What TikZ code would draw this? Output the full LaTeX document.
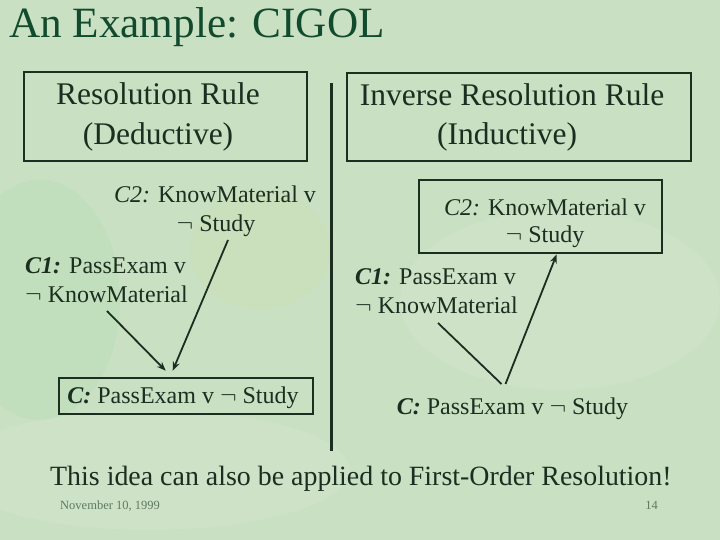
\documentclass[tikz,border=0pt]{standalone}
\usepackage{fontspec}
\setmainfont{Liberation Serif}
\usetikzlibrary{arrows.meta,calc}
\definecolor{bg}{HTML}{C9E0C3}
\definecolor{ink}{HTML}{1C2E20}
\definecolor{titlec}{HTML}{114A2C}
\definecolor{foot}{HTML}{5E7A62}
\tikzset{
  txt/.style={anchor=base,inner sep=0pt,text=ink,font=\fontsize{24}{28}\selectfont},
  hdr/.style={anchor=base,inner sep=0pt,text=ink,font=\fontsize{31.5}{36}\selectfont},
  box/.style={draw=ink,line width=2.6pt,inner sep=0pt},
  arr/.style={draw=ink,line width=1.8pt,-{Stealth[length=9pt,width=7pt]}},
  ln/.style={draw=ink,line width=1.8pt},
}
\begin{document}
\begin{tikzpicture}[x=1pt,y=-1pt]
\useasboundingbox (0,0) rectangle (720,540);
% background
\fill[bg] (0,0) rectangle (720,540);
\fill[white,opacity=0.08] (560,300) ellipse (160 and 90);
\fill[white,opacity=0.08] (150,470) ellipse (200 and 60);
\fill[green!50!teal,opacity=0.04] (40,300) ellipse (80 and 120);
\fill[yellow!60!orange,opacity=0.035] (260,250) ellipse (70 and 60);

% title
\node[anchor=base west,inner sep=0pt,text=titlec,font=\fontsize{43.2}{48}\selectfont] (title) at (9,38) {An Example: CIGOL};

% divider
\coordinate (divtop) at (331,83);
\coordinate (divbot) at (331,451);
\draw[ink,line width=3pt] (divtop) -- (divbot);

% left header box
\node[box,minimum width=283pt,minimum height=89pt] (lbox) at (165.5,116.5) {};
\node[hdr] (lh1) at (158,105) {Resolution Rule};
\node[hdr] (lh2) at (158,145) {(Deductive)};

% right header box
\node[box,minimum width=344pt,minimum height=88pt] (rbox) at (519,117) {};
\node[hdr] (rh1) at (512,106) {Inverse Resolution Rule};
\node[hdr] (rh2) at (507,145) {(Inductive)};

% left side clauses
\node[txt] (lc2a) at (215,203) {\textit{C2:} KnowMaterial v};
\node[txt] (lc2b) at (216,232) {$\neg$ Study};
\node[txt,anchor=base west] (lc1a) at (25,273) {\textbf{\textit{C1:}} PassExam v};
\node[txt,anchor=base west] (lc1b) at (25,302) {$\neg$ KnowMaterial};
\node[box,minimum width=254pt,minimum height=36pt] (lcbox) at (186,396) {};
\node[txt] (lc) at (183,403) {\textbf{\textit{C:}} PassExam v $\neg$ Study};

\coordinate (a1s) at ($(lc1b.base west)+(82,9)$);
\coordinate (a1e) at ($(lcbox.north west)+(108,-6)$);
\coordinate (a2s) at ($(lc2b.base)+(12,8)$);
\coordinate (a2e) at ($(lcbox.north west)+(115,-6)$);
\draw[arr] (a1s) -- (a1e);
\draw[arr] (a2s) -- (a2e);

% right side clauses
\node[box,minimum width=243pt,minimum height=73pt] (rc2box) at (540.5,216.5) {};
\node[txt] (rc2a) at (545,215) {\textit{C2:} KnowMaterial v};
\node[txt] (rc2b) at (545,243) {$\neg$ Study};
\node[txt,anchor=base west] (rc1a) at (355,284) {\textbf{\textit{C1:}} PassExam v};
\node[txt,anchor=base west] (rc1b) at (355,313) {$\neg$ KnowMaterial};
\node[txt] (rc) at (512.5,414) {\textbf{\textit{C:}} PassExam v $\neg$ Study};

\coordinate (r1s) at ($(rc1b.base west)+(83,10)$);
\coordinate (rmid) at ($(rc.base)+(-11,-30)$);
\coordinate (r2e) at ($(rc2box.south west)+(139,0)$);
\draw[ln] (r1s) -- (rmid);
\draw[arr] ($(rmid)+(4,0)$) -- (r2e);

% bottom line
\node[anchor=base west,inner sep=0pt,text=ink,font=\fontsize{27.9}{32}\selectfont] (note) at (50,485) {This idea can also be applied to First-Order Resolution!};
\node[anchor=base west,inner sep=0pt,text=foot,font=\fontsize{12.5}{14}\selectfont] (date) at (60,509) {November 10, 1999};
\node[anchor=base east,inner sep=0pt,text=foot,font=\fontsize{12.5}{14}\selectfont] (page) at (658,509) {14};
\end{tikzpicture}
\end{document}
